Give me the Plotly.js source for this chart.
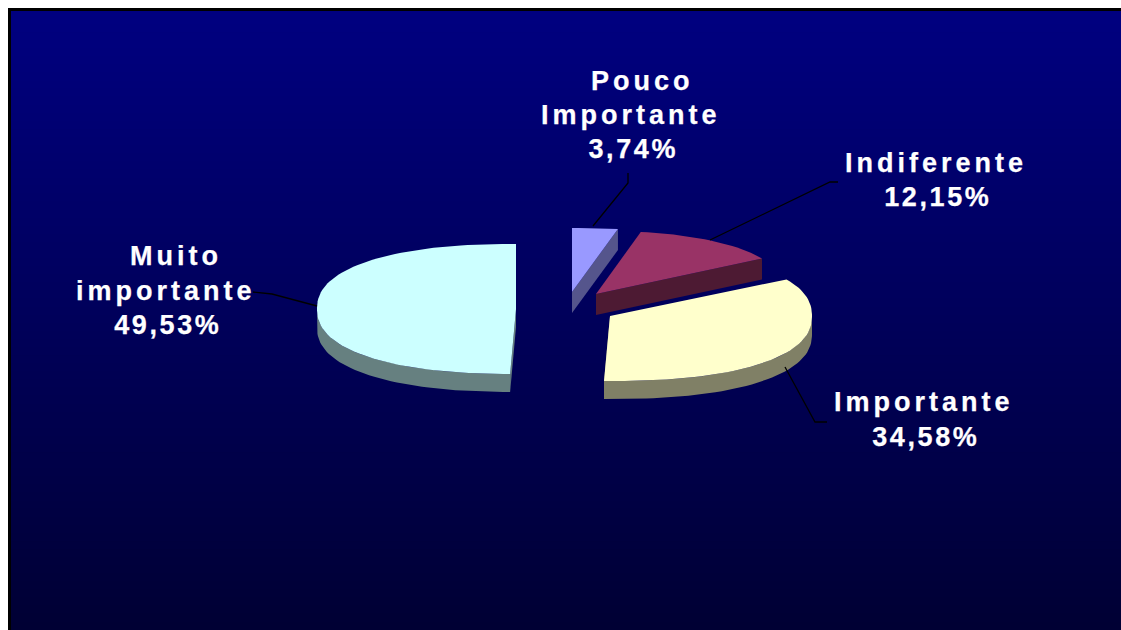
<!DOCTYPE html>
<html>
<head>
<meta charset="utf-8">
<script src="https://cdn.plot.ly/plotly-3.0.1.min.js"></script>
<style>
html,body{margin:0;padding:0;background:#fff;overflow:hidden}
#chart{width:1121px;height:630px}
#chart .annotation text{letter-spacing:4px;stroke:#fff;stroke-width:.25px}
#chart .annotation text[data-unformatted$="%"]{letter-spacing:2.6px}
</style>
</head>
<body>
<div id="chart"></div>
<script>
// Data, in drawing order clockwise from 12 o'clock
const categories = ["Pouco Importante", "Indiferente", "Importante", "Muito importante"];
const categoryLines = [["Pouco", "Importante"], ["Indiferente"], ["Importante"], ["Muito", "importante"]];
const values = [3.74, 12.15, 34.58, 49.53];
const topColors = ["#9999FF", "#993366", "#FFFFCC", "#CCFFFF"];
const wallColors = ["#55558C", "#4D1A33", "#808066", "#668080"];

// Exploded-pie projection (layout only)
const apexX = [572, 596, 610, 516];
const apexY = [292, 294, 316, 309];
const depths = [21, 21, 18, 18];
const radiusX = [195, 190, 202, 199];
const radiusY = [64, 63, 65, 65];
const roundness = 2.3;

// Label placement: one x/y per text line, the last line is the percentage
const labelX = [[642, 631, 633], [936, 938], [924, 926], [176, 166, 168]];
const labelY = [[81, 115, 149], [163, 197], [402, 437], [256, 291, 325]];

const leaderLines = [
  [[628, 173], [628, 183], [593, 226]],
  [[838, 182], [830, 182], [710, 240]],
  [[827, 422], [815, 422], [785, 367]],
  [[253, 292], [272, 294], [317, 306]]
];

function point(i, deg, drop) {
  const a = deg * Math.PI / 180;
  const s = Math.sin(a), c = Math.cos(a);
  const t = Math.pow(Math.pow(Math.abs(s), roundness) + Math.pow(Math.abs(c), roundness), -1 / roundness);
  return [apexX[i] + radiusX[i] * s * t, apexY[i] - radiusY[i] * c * t + (drop || 0)];
}
function arc(i, from, to, drop) {
  const n = Math.max(2, Math.ceil(Math.abs(to - from) / 2));
  const out = [];
  for (let k = 0; k <= n; k++) out.push(point(i, from + (to - from) * k / n, drop));
  return out;
}
function poly(points, color) {
  const closed = points.concat([points[0]]);
  return {
    type: "scatter", mode: "lines", fill: "toself", fillcolor: color,
    x: closed.map(p => p[0]), y: closed.map(p => p[1]),
    line: { width: 0, color: color }, hoverinfo: "skip", showlegend: false
  };
}

const total = values.reduce((s, v) => s + v, 0);
const walls = [], tops = [];
let cum = 0;
values.forEach((v, i) => {
  const from = cum / total * 360, to = (cum + v) / total * 360;
  cum += v;
  const d = depths[i];
  const apex = [apexX[i], apexY[i]];
  const apexLow = [apexX[i], apexY[i] + d];
  if (from < 90) {
    walls.push(poly([apex, point(i, to), point(i, to, d), apexLow], wallColors[i]));
  }
  if (from > 180 && to >= 360) {
    walls.push(poly([apex, point(i, from), point(i, from, d), apexLow], wallColors[i]));
  }
  const rimFrom = Math.max(from, 90), rimTo = Math.min(to, 270);
  if (rimTo > rimFrom) {
    walls.push(poly(arc(i, rimFrom, rimTo, 0).concat(arc(i, rimTo, rimFrom, d)), wallColors[i]));
  }
  tops.push(poly([apex].concat(arc(i, from, to, 0)), topColors[i]));
});

// Leader lines
const leaders = leaderLines.map(l => ({
  type: "scatter", mode: "lines", x: l.map(p => p[0]), y: l.map(p => p[1]),
  line: { color: "#000000", width: 1.3 }, hoverinfo: "skip", showlegend: false
}));

// Labels
const annotations = [];
categoryLines.forEach((lines, i) => {
  const pct = values[i].toFixed(2).replace(".", ",") + "%";
  lines.concat([pct]).forEach((text, j) => {
    annotations.push({
      x: labelX[i][j], y: labelY[i][j], xref: "x", yref: "y",
      text: text, showarrow: false, xanchor: "center", yanchor: "middle",
      font: { family: "Liberation Sans, Arial, sans-serif", size: 27, color: "#FFFFFF", weight: 700 }
    });
  });
});

// Background gradient bands + black frame
const shapes = [];
const gradTop = 0x80, gradBottom = 0x33, frameLeft = 8, frameTop = 8, frameW = 3;
const levels = gradTop - gradBottom;
for (let k = 0; k < levels; k++) {
  const y0 = frameTop + (630 - frameTop) * k / levels;
  const y1 = frameTop + (630 - frameTop) * (k + 1) / levels;
  const b = gradTop - k;
  shapes.push({ type: "rect", layer: "below", xref: "x", yref: "y", x0: frameLeft, x1: 1121, y0: y0, y1: y1 + 1,
    line: { width: 0 }, fillcolor: "rgb(0,0," + b + ")" });
}
shapes.push({ type: "rect", layer: "below", xref: "x", yref: "y", x0: frameLeft, x1: 1121, y0: frameTop, y1: frameTop + frameW, line: { width: 0 }, fillcolor: "#000" });
shapes.push({ type: "rect", layer: "below", xref: "x", yref: "y", x0: frameLeft, x1: frameLeft + frameW, y0: frameTop, y1: 630, line: { width: 0 }, fillcolor: "#000" });

const hidden = { visible: false, fixedrange: true, showgrid: false, zeroline: false };
Plotly.newPlot("chart", walls.concat(tops, leaders), {
  width: 1121, height: 630,
  margin: { l: 0, r: 0, t: 0, b: 0 },
  paper_bgcolor: "#FFFFFF", plot_bgcolor: "rgba(0,0,0,0)",
  xaxis: Object.assign({ range: [0, 1121] }, hidden),
  yaxis: Object.assign({ range: [630, 0] }, hidden),
  shapes: shapes, annotations: annotations, showlegend: false
}, { displayModeBar: false, staticPlot: true });
</script>
</body>
</html>
